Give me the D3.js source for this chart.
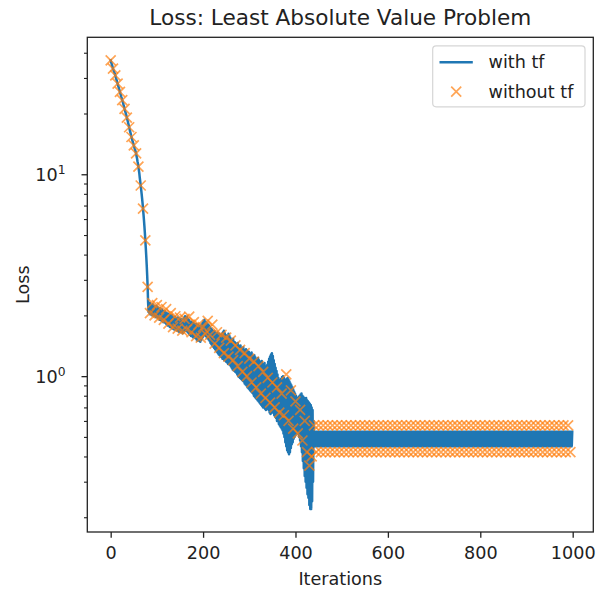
<!DOCTYPE html>
<html>
<head>
<meta charset="utf-8">
<script src="https://cdn.jsdelivr.net/npm/d3@7"></script>
<style>
  body { margin: 0; background: #fff; }
  svg { display: block; }
  text { font-family: "DejaVu Sans", sans-serif; fill: #222; }
</style>
</head>
<body>
<svg id="chart" width="597" height="592"></svg>
<script>
// Loss recorded at every iteration, with tf (index = iteration)
const lossTf = [
  // iterations 0-80: steady descent
  36.7,36.0,35.3,34.6,34.0,33.4,32.9,32.4,31.9,31.4,
  30.9,30.3,29.7,29.2,28.6,28.1,27.6,27.1,26.6,26.1,
  25.6,25.1,24.7,24.2,23.8,23.3,22.9,22.5,22.0,21.6,
  21.1,20.7,20.3,19.9,19.5,19.1,18.7,18.3,17.9,17.5,
  17.1,16.7,16.3,16.0,15.6,15.3,15.0,14.7,14.4,14.2,
  13.9,13.7,13.4,13.2,12.9,12.7,12.3,12.0,11.6,11.3,
  10.9,10.5,10.1,9.6,9.2,8.8,8.4,8.0,7.6,7.2,
  6.76,6.35,5.94,5.53,5.12,4.71,4.32,3.93,3.55,3.16,
  2.77,
  // iterations 81-440: oscillating descent
  2.32,2.08,2.28,2.05,2.3,2.02,2.26,2.06,2.25,2.0,
  2.27,2.03,2.24,1.98,2.22,2.0,2.2,1.96,2.23,1.97,
  2.2,1.94,2.18,1.95,2.15,1.9,2.17,1.92,2.12,1.88,
  2.14,1.9,2.1,1.85,2.08,1.87,2.1,1.84,2.05,1.82,
  2.06,1.8,2.02,1.78,2.04,1.79,2.0,1.75,2.01,1.76,
  1.98,1.74,2.0,1.72,1.96,1.73,1.95,1.7,1.97,1.71,
  1.94,1.7,1.92,1.68,1.95,1.69,1.9,1.66,1.93,1.67,
  1.9,1.65,1.92,1.66,1.88,1.63,1.91,1.65,1.95,1.68,
  1.98,1.7,1.95,1.68,1.97,1.66,1.92,1.64,1.9,1.62,
  1.87,1.6,1.85,1.58,1.86,1.59,1.83,1.56,1.84,1.57,
  1.82,1.55,1.8,1.54,1.81,1.52,1.78,1.5,1.8,1.53,
  1.77,1.5,1.75,1.48,1.78,1.51,1.8,1.54,1.84,1.57,
  1.88,1.6,1.9,1.62,1.86,1.58,1.85,1.56,1.82,1.54,
  1.8,1.52,1.78,1.5,1.75,1.46,1.72,1.44,1.7,1.42,
  1.68,1.4,1.66,1.38,1.67,1.36,1.63,1.34,1.62,1.32,
  1.64,1.3,1.6,1.28,1.62,1.27,1.58,1.25,1.6,1.24,
  1.62,1.22,1.65,1.24,1.68,1.2,1.63,1.21,1.6,1.18,
  1.58,1.17,1.56,1.15,1.62,1.16,1.58,1.14,1.55,1.12,
  1.52,1.1,1.5,1.08,1.53,1.07,1.48,1.06,1.47,1.05,
  1.45,1.04,1.44,1.02,1.46,1.0,1.42,0.99,1.4,0.98,
  1.42,0.97,1.38,0.96,1.36,0.95,1.39,0.94,1.35,0.92,
  1.33,0.91,1.36,0.9,1.34,0.88,1.3,0.87,1.32,0.86,
  1.3,0.85,1.28,0.84,1.31,0.83,1.26,0.82,1.25,0.8,
  1.27,0.79,1.24,0.78,1.22,0.77,1.2,0.76,1.23,0.75,
  1.2,0.74,1.18,0.73,1.16,0.72,1.19,0.71,1.15,0.7,
  1.13,0.7,1.16,0.69,1.12,0.68,1.1,0.7,1.14,0.69,
  1.18,0.68,1.22,0.66,1.25,0.65,1.28,0.66,1.3,0.67,
  1.26,0.66,1.2,0.64,1.15,0.63,1.1,0.62,1.06,0.6,
  1.02,0.6,0.98,0.58,0.96,0.57,0.94,0.56,0.97,0.55,
  0.99,0.54,1.0,0.52,0.98,0.5,0.96,0.47,0.95,0.45,
  0.97,0.43,0.98,0.42,0.96,0.41,0.94,0.42,0.92,0.44,
  0.9,0.46,0.88,0.47,0.86,0.49,0.84,0.5,0.82,0.51,
  0.8,0.52,0.78,0.53,0.77,0.52,0.79,0.5,0.8,0.48,
  0.81,0.45,0.82,0.42,0.8,0.38,0.79,0.35,0.78,0.32,
  0.77,0.3,0.78,0.28,0.76,0.26,0.75,0.25,0.74,0.23,
  0.73,0.22,0.72,0.22,0.7,0.24,0.68,0.3,0.6,0.45,
  // iterations 441-999: settled oscillation
  0.53,0.45,0.53,0.45,0.53,0.45,0.53,0.45,0.53,0.45,0.53,0.45,0.53,0.45,0.53,0.45,0.53,0.45,0.53,0.45,
  0.53,0.45,0.53,0.45,0.53,0.45,0.53,0.45,0.53,0.45,0.53,0.45,0.53,0.45,0.53,0.45,0.53,0.45,0.53,0.45,
  0.53,0.45,0.53,0.45,0.53,0.45,0.53,0.45,0.53,0.45,0.53,0.45,0.53,0.45,0.53,0.45,0.53,0.45,0.53,0.45,
  0.53,0.45,0.53,0.45,0.53,0.45,0.53,0.45,0.53,0.45,0.53,0.45,0.53,0.45,0.53,0.45,0.53,0.45,0.53,0.45,
  0.53,0.45,0.53,0.45,0.53,0.45,0.53,0.45,0.53,0.45,0.53,0.45,0.53,0.45,0.53,0.45,0.53,0.45,0.53,0.45,
  0.53,0.45,0.53,0.45,0.53,0.45,0.53,0.45,0.53,0.45,0.53,0.45,0.53,0.45,0.53,0.45,0.53,0.45,0.53,0.45,
  0.53,0.45,0.53,0.45,0.53,0.45,0.53,0.45,0.53,0.45,0.53,0.45,0.53,0.45,0.53,0.45,0.53,0.45,0.53,0.45,
  0.53,0.45,0.53,0.45,0.53,0.45,0.53,0.45,0.53,0.45,0.53,0.45,0.53,0.45,0.53,0.45,0.53,0.45,0.53,0.45,
  0.53,0.45,0.53,0.45,0.53,0.45,0.53,0.45,0.53,0.45,0.53,0.45,0.53,0.45,0.53,0.45,0.53,0.45,0.53,0.45,
  0.53,0.45,0.53,0.45,0.53,0.45,0.53,0.45,0.53,0.45,0.53,0.45,0.53,0.45,0.53,0.45,0.53,0.45,0.53,0.45,
  0.53,0.45,0.53,0.45,0.53,0.45,0.53,0.45,0.53,0.45,0.53,0.45,0.53,0.45,0.53,0.45,0.53,0.45,0.53,0.45,
  0.53,0.45,0.53,0.45,0.53,0.45,0.53,0.45,0.53,0.45,0.53,0.45,0.53,0.45,0.53,0.45,0.53,0.45,0.53,0.45,
  0.53,0.45,0.53,0.45,0.53,0.45,0.53,0.45,0.53,0.45,0.53,0.45,0.53,0.45,0.53,0.45,0.53,0.45,0.53,0.45,
  0.53,0.45,0.53,0.45,0.53,0.45,0.53,0.45,0.53,0.45,0.53,0.45,0.53,0.45,0.53,0.45,0.53,0.45,0.53,0.45,
  0.53,0.45,0.53,0.45,0.53,0.45,0.53,0.45,0.53,0.45,0.53,0.45,0.53,0.45,0.53,0.45,0.53,0.45,0.53,0.45,
  0.53,0.45,0.53,0.45,0.53,0.45,0.53,0.45,0.53,0.45,0.53,0.45,0.53,0.45,0.53,0.45,0.53,0.45,0.53,0.45,
  0.53,0.45,0.53,0.45,0.53,0.45,0.53,0.45,0.53,0.45,0.53,0.45,0.53,0.45,0.53,0.45,0.53,0.45,0.53,0.45,
  0.53,0.45,0.53,0.45,0.53,0.45,0.53,0.45,0.53,0.45,0.53,0.45,0.53,0.45,0.53,0.45,0.53,0.45,0.53,0.45,
  0.53,0.45,0.53,0.45,0.53,0.45,0.53,0.45,0.53,0.45,0.53,0.45,0.53,0.45,0.53,0.45,0.53,0.45,0.53,0.45,
  0.53,0.45,0.53,0.45,0.53,0.45,0.53,0.45,0.53,0.45,0.53,0.45,0.53,0.45,0.53,0.45,0.53,0.45,0.53,0.45,
  0.53,0.45,0.53,0.45,0.53,0.45,0.53,0.45,0.53,0.45,0.53,0.45,0.53,0.45,0.53,0.45,0.53,0.45,0.53,0.45,
  0.53,0.45,0.53,0.45,0.53,0.45,0.53,0.45,0.53,0.45,0.53,0.45,0.53,0.45,0.53,0.45,0.53,0.45,0.53,0.45,
  0.53,0.45,0.53,0.45,0.53,0.45,0.53,0.45,0.53,0.45,0.53,0.45,0.53,0.45,0.53,0.45,0.53,0.45,0.53,0.45,
  0.53,0.45,0.53,0.45,0.53,0.45,0.53,0.45,0.53,0.45,0.53,0.45,0.53,0.45,0.53,0.45,0.53,0.45,0.53,0.45,
  0.53,0.45,0.53,0.45,0.53,0.45,0.53,0.45,0.53,0.45,0.53,0.45,0.53,0.45,0.53,0.45,0.53,0.45,0.53,0.45,
  0.53,0.45,0.53,0.45,0.53,0.45,0.53,0.45,0.53,0.45,0.53,0.45,0.53,0.45,0.53,0.45,0.53,0.45,0.53,0.45,
  0.53,0.45,0.53,0.45,0.53,0.45,0.53,0.45,0.53,0.45,0.53,0.45,0.53,0.45,0.53,0.45,0.53,0.45,0.53,0.45,
  0.53,0.45,0.53,0.45,0.53,0.45,0.53,0.45,0.53,0.45,0.53,0.45,0.53,0.45,0.53,0.45,0.53,0.45,0.53
];

// Loss without tf, recorded every 5 iterations
const noTfStep = 5;
const lossNoTf = [
  // iterations 0-80
  36.7,33.4,30.9,28.1,25.6,23.3,21.1,19.1,17.1,15.3,13.9,12.7,10.9,8.8,6.76,4.71,2.77,
  // iterations 85-435
  2.05,2.3,2.0,2.25,1.95,2.2,1.9,2.15,1.82,2.05,1.75,1.98,1.72,1.95,1.68,1.92,1.7,1.97,1.65,1.85,
  1.58,1.8,1.55,1.75,1.62,1.88,1.6,1.8,1.45,1.65,1.38,1.6,1.3,1.55,1.25,1.5,1.2,1.42,1.12,1.35,
  1.05,1.3,1.0,1.22,0.93,1.18,0.88,1.12,0.82,1.05,0.78,0.98,0.74,0.93,0.7,0.88,0.66,0.82,0.64,1.02,
  0.6,0.85,0.55,0.75,0.52,0.68,0.48,0.6,0.42,0.36,0.4,
  // iterations 440-995
  0.57,0.42,0.57,0.42,0.57,0.42,0.57,0.42,0.57,0.42,0.57,0.42,0.57,0.42,0.57,0.42,0.57,0.42,0.57,0.42,
  0.57,0.42,0.57,0.42,0.57,0.42,0.57,0.42,0.57,0.42,0.57,0.42,0.57,0.42,0.57,0.42,0.57,0.42,0.57,0.42,
  0.57,0.42,0.57,0.42,0.57,0.42,0.57,0.42,0.57,0.42,0.57,0.42,0.57,0.42,0.57,0.42,0.57,0.42,0.57,0.42,
  0.57,0.42,0.57,0.42,0.57,0.42,0.57,0.42,0.57,0.42,0.57,0.42,0.57,0.42,0.57,0.42,0.57,0.42,0.57,0.42,
  0.57,0.42,0.57,0.42,0.57,0.42,0.57,0.42,0.57,0.42,0.57,0.42,0.57,0.42,0.57,0.42,0.57,0.42,0.57,0.42,
  0.57,0.42,0.57,0.42,0.57,0.42,0.57,0.42,0.57,0.42,0.57,0.42
];

const xTickValues = [0, 200, 400, 600, 800, 1000];
const yMajorValues = [1, 10];
const yMinorValues = [0.2, 0.3, 0.4, 0.5, 0.6, 0.7, 0.8, 0.9, 2, 3, 4, 5, 6, 7, 8, 9, 20, 30, 40];
const seriesNames = ["with tf", "without tf"];
const seriesColors = ["#1f77b4", "#ff7f0e"];
const chartTitle = "Loss: Least Absolute Value Problem";
const xLabel = "Iterations";
const yLabel = "Loss";

// plot frame
const frame = { left: 87.3, right: 593.3, top: 37.3, bottom: 532 };
const fontSize = 17.6;
const titleSize = 21.6;

const svg = d3.select("#chart");

const x = d3.scaleLinear().domain([-50.6, 1044.6]).range([frame.left, frame.right]);
const y = d3.scaleLog().domain([0.169, 47.7]).range([frame.bottom, frame.top]);

// data lines
const tfPoints = lossTf.map((v, i) => [i, v]);
const noTfPoints = lossNoTf.map((v, i) => [i * noTfStep, v]);

const plot = svg.append("g");
plot.append("clipPath").attr("id", "plotclip")
  .append("rect")
  .attr("x", frame.left).attr("y", frame.top)
  .attr("width", frame.right - frame.left).attr("height", frame.bottom - frame.top);

const inner = plot.append("g").attr("clip-path", "url(#plotclip)");

inner.append("path")
  .datum(tfPoints)
  .attr("fill", "none")
  .attr("stroke", seriesColors[0])
  .attr("stroke-width", 2.5)
  .attr("stroke-linejoin", "round")
  .attr("stroke-linecap", "square")
  .attr("d", d3.line().x(d => x(d[0])).y(d => y(d[1])));

const xMark = "M-5,-5L5,5M-5,5L5,-5";
inner.append("g")
  .selectAll("path")
  .data(noTfPoints)
  .join("path")
  .attr("transform", d => `translate(${x(d[0])},${y(d[1])})`)
  .attr("d", xMark)
  .attr("fill", "none")
  .attr("stroke", seriesColors[1])
  .attr("stroke-width", 1.7)
  .attr("stroke-opacity", 0.7);

// axes
const xAxis = d3.axisBottom(x).tickValues(xTickValues).tickSize(5.8).tickPadding(9.2).tickFormat(d3.format("d"));
const gx = svg.append("g").attr("transform", `translate(0,${frame.bottom})`).call(xAxis);
gx.select(".domain").remove();
gx.selectAll(".tick line").attr("stroke", "#222").attr("stroke-width", 1.3);
gx.selectAll(".tick text").attr("font-size", fontSize).attr("font-family", "DejaVu Sans").attr("fill", "#222");

const yAxisMinor = d3.axisLeft(y).tickValues(yMinorValues).tickSize(3.3).tickFormat("");
const gyMinor = svg.append("g").attr("transform", `translate(${frame.left},0)`).call(yAxisMinor);
gyMinor.select(".domain").remove();
gyMinor.selectAll(".tick line").attr("stroke", "#222").attr("stroke-width", 1.1);

const yAxis = d3.axisLeft(y).tickValues(yMajorValues).tickSize(5.8).tickPadding(16).tickFormat(d => "");
const gy = svg.append("g").attr("transform", `translate(${frame.left},0)`).call(yAxis);
gy.select(".domain").remove();
gy.selectAll(".tick line").attr("stroke", "#222").attr("stroke-width", 1.3);
gy.selectAll(".tick text")
  .attr("font-size", fontSize).attr("font-family", "DejaVu Sans").attr("fill", "#222")
  .attr("dy", "0.36em")
  .each(function(d) {
    const t = d3.select(this);
    t.append("tspan").text("10");
    t.append("tspan").attr("font-size", fontSize * 0.7).attr("dy", "-0.55em").text(String(Math.round(Math.log10(d))));
  });

// frame spines
svg.append("rect")
  .attr("x", frame.left).attr("y", frame.top)
  .attr("width", frame.right - frame.left).attr("height", frame.bottom - frame.top)
  .attr("fill", "none").attr("stroke", "#222").attr("stroke-width", 1.3);

// title and axis labels
svg.append("text")
  .attr("x", (frame.left + frame.right) / 2).attr("y", 25)
  .attr("text-anchor", "middle").attr("font-size", titleSize)
  .text(chartTitle);

svg.append("text")
  .attr("x", (frame.left + frame.right) / 2).attr("y", 584.5)
  .attr("text-anchor", "middle").attr("font-size", fontSize)
  .text(xLabel);

svg.append("text")
  .attr("transform", `translate(28.5,${(frame.top + frame.bottom) / 2}) rotate(-90)`)
  .attr("text-anchor", "middle").attr("font-size", fontSize)
  .text(yLabel);

// legend
const legend = svg.append("g");
legend.append("rect")
  .attr("x", 432.7).attr("y", 45.8).attr("width", 152.3).attr("height", 61)
  .attr("rx", 3.5)
  .attr("fill", "#fff").attr("fill-opacity", 0.8)
  .attr("stroke", "#d6d6d6").attr("stroke-width", 1.2);
legend.append("line")
  .attr("x1", 439.5).attr("x2", 472.8).attr("y1", 62.3).attr("y2", 62.3)
  .attr("stroke", seriesColors[0]).attr("stroke-width", 2.5);
legend.append("path")
  .attr("transform", "translate(456.2,91.7)")
  .attr("d", xMark)
  .attr("fill", "none").attr("stroke", seriesColors[1])
  .attr("stroke-width", 1.7).attr("stroke-opacity", 0.7);
legend.append("text").attr("x", 488.5).attr("y", 68.3).attr("font-size", fontSize).text(seriesNames[0]);
legend.append("text").attr("x", 488.5).attr("y", 97.8).attr("font-size", fontSize).text(seriesNames[1]);
</script>
</body>
</html>
